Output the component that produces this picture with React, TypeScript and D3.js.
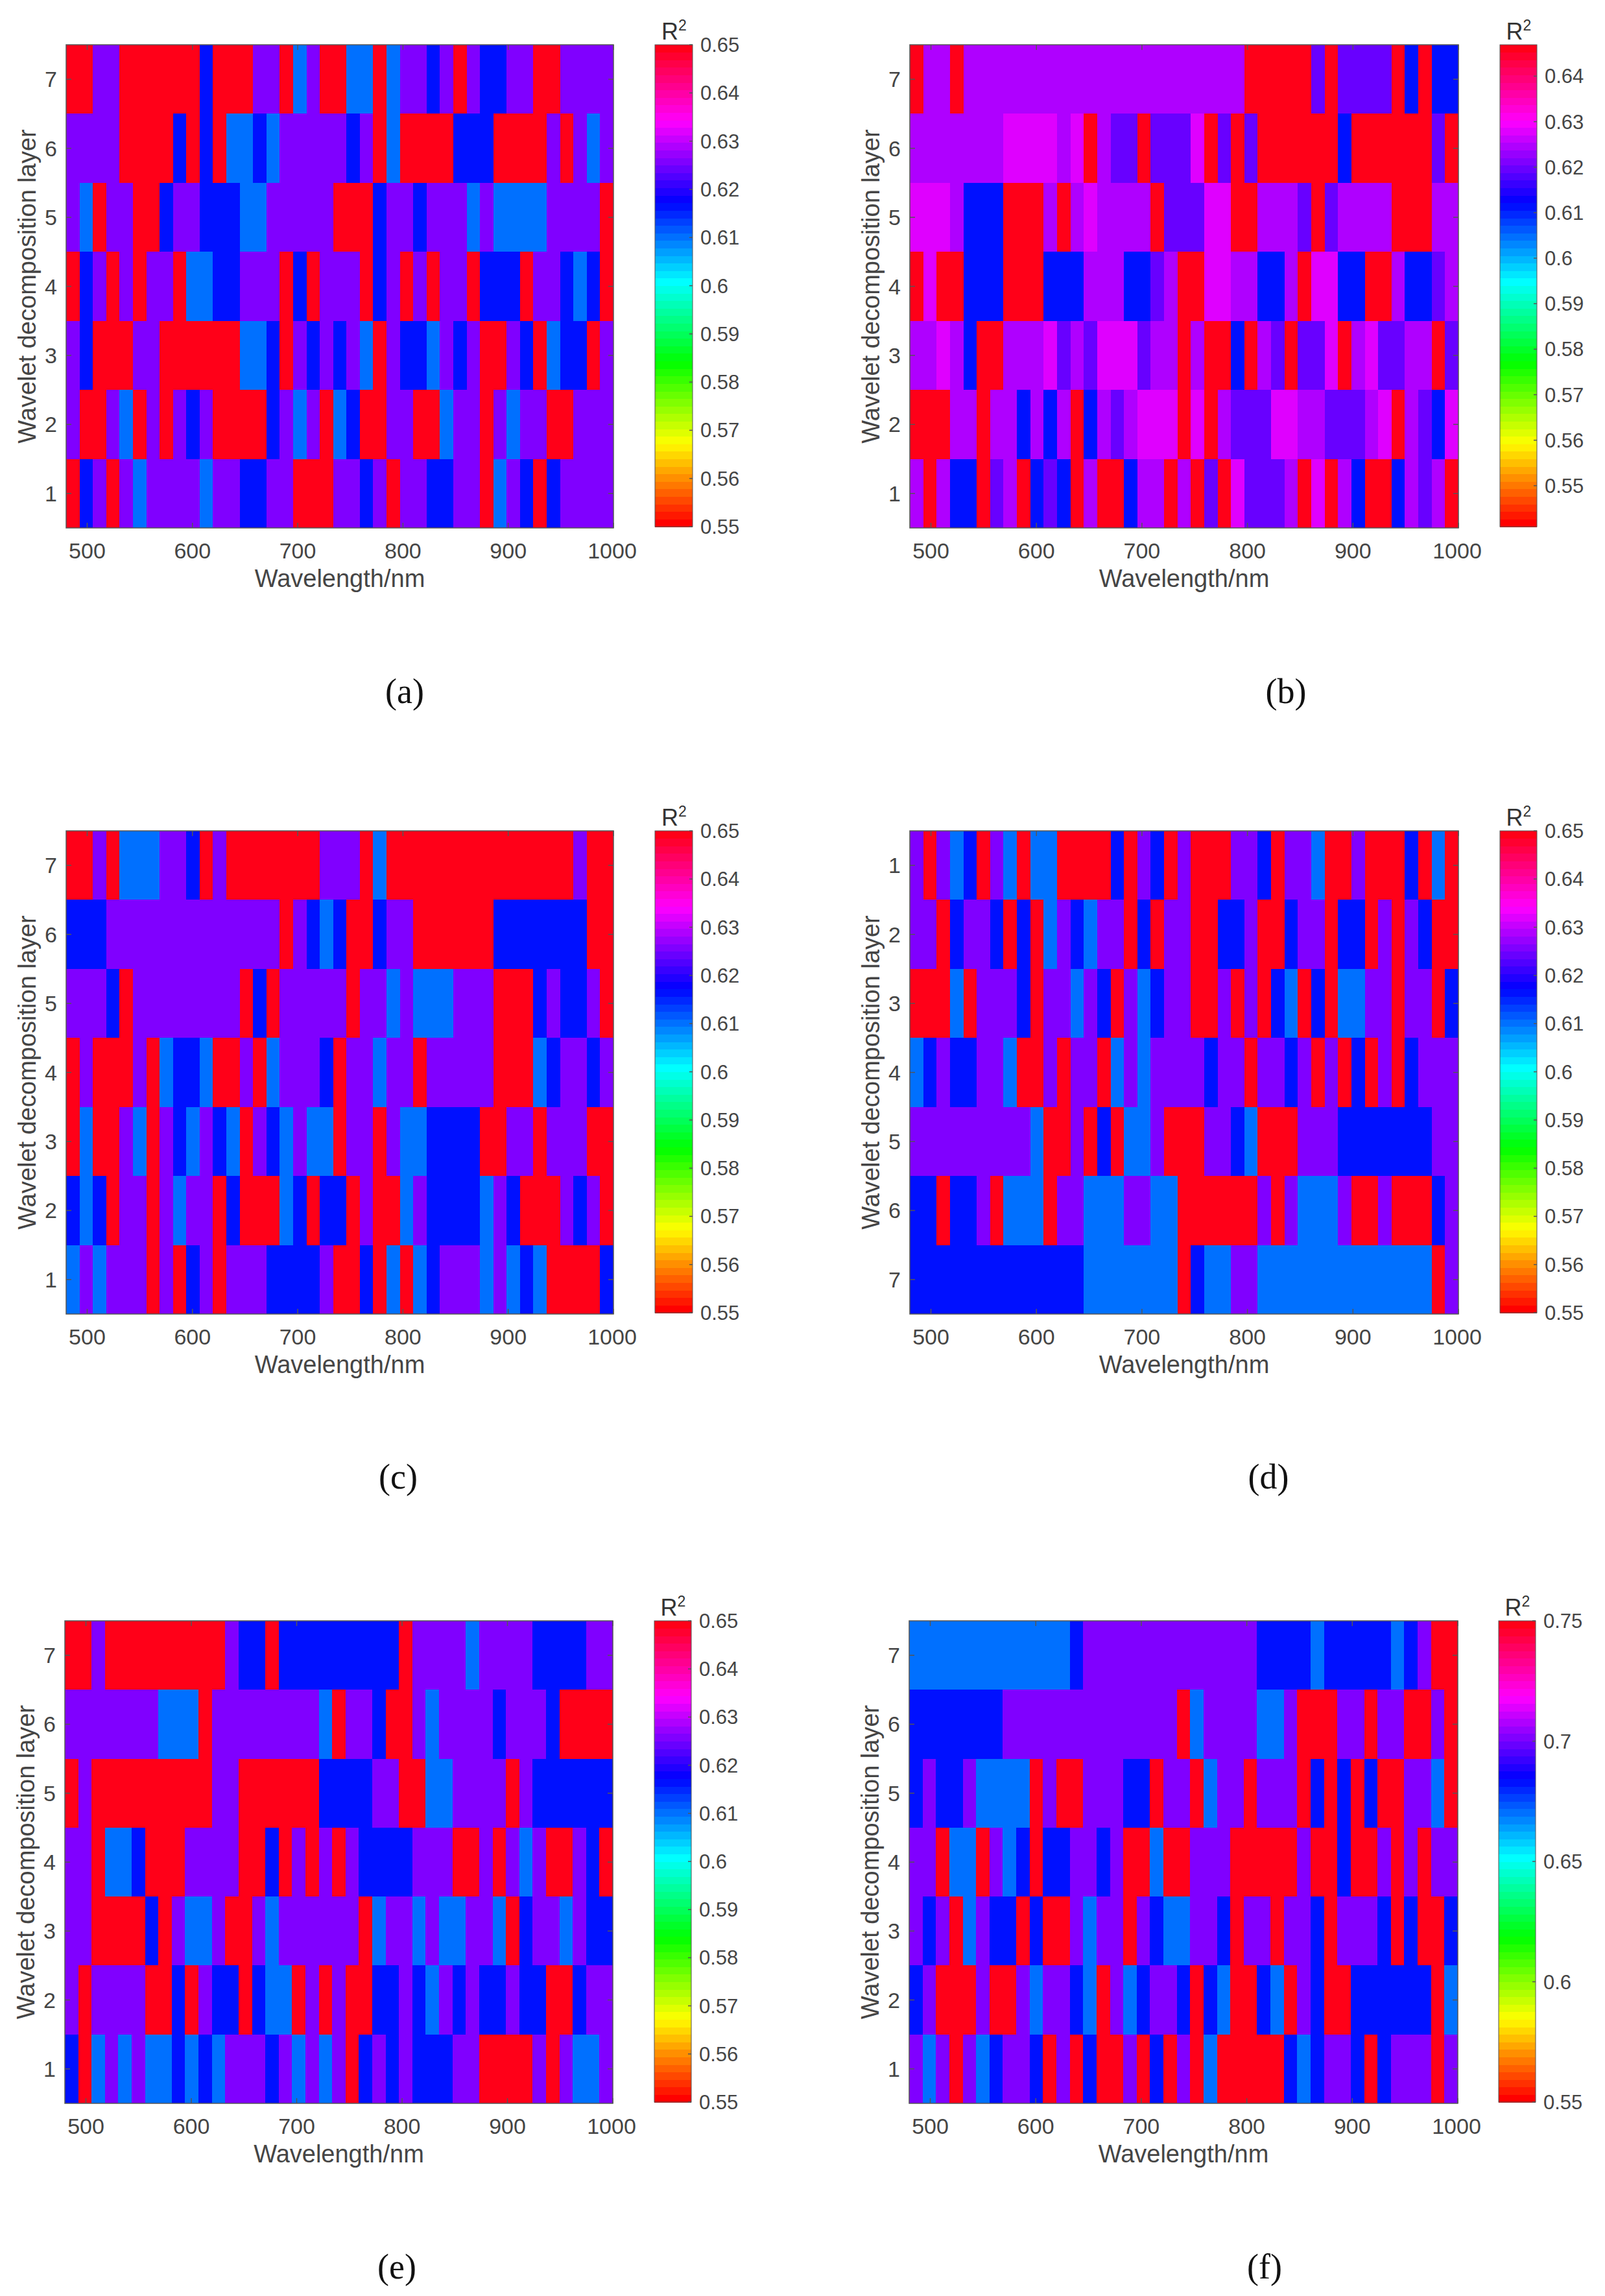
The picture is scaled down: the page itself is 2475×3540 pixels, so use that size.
import React from 'react'
import * as d3 from 'd3'

// R2 of every wavelength band (41 bands, one letter each, grouped by ten) per decomposition layer, layer 1 first
const panelA = [
  'RBVRVLVVVV LVVBBVVRRR VVBVRVVBBV VRLVBRBVVV V',
  'VRRVLRVRVB VRRRRBVLVR LBRRVVRRLV VRVLVVRRVV V',
  'VBRRRVVRRR RRRLLBRVBV BVLRVBBLVB VRRVBRLBBR V',
  'RBVRVRVVRL LBBVVVRBRV VVRBVRVRVV RBBBRVVBLB R',
  'VLRVVRRBVV BBBLLVVVVV RRRBVVBVVV LVLLLLVVVV R',
  'VVVVRRRRBR BRLLBLVVVV VBVRLRRRRB BBRRRRVRVL V',
  'RRVVRRRRRR BRRRVVRLVR RLLRLVVBVR VBBVVRRVVV V',
]
const panelB = [
  'MRMBBRUMRB UBRMRRBMMR MRURPUUUMR PRMBRRBMUM R',
  'RRRMMRMMBM BMRBMUMPPP RPRMUUUPPM MUUUMPRMUB P',
  'MMPMBRRMMM PUMUPPPUMM RMRRBRMURU UPRMPUUMMR U',
  'RPRRBBBRRR BBBMMMBBUM RRPPMMBBMR PPBBRRMBBU M',
  'PPPMBBBRRR MRMPMMMMRU UUPPRRMMMU RUMMMMRRRM M',
  'MMMMMMMPPP PMPRMUURUU UPRURURRRR RRBRRRRRRU R',
  'RMMRMMMMMM MMMMMMMMMM MMMMMRRRRR URUUUURBRB B',
]
const panelC = [
  'LVLVVVRVRB VRVVVBBBBV RRBRLRLBVV VLVLBLRRRR B',
  'BLBRVVRVLV VRBRRRLBRB BRVRRLVBBB BLVBRRRVBV R',
  'RLRRVLRVBL VBLRVBLVLL RVVRVLLBBB BRRVVRVVVR R',
  'RVRRRVRLBB LRRVRLVVVB RVVLVVRVVV VVRRRLBVVB V',
  'VVVBRVVVVV VVVRBRVVVV VRVVLVLLLV VVRRRBVBBV R',
  'BBBVVVVVVV VVVVVVRVBL BRRBVVRRRR RRBBBBBBBR R',
  'RRVRLLLVVB RVRRRRRRRV VVRLRRRRRR RRRRRRRRVR R',
]
const panelD = [
  'VRVLBRVLRL LRRRRBRVBR VRRRVVBRVV LRRVRRRBRL R',
  'VVRBVVBRBR LVBLVVRBRV VRRBBVRRBV VRBBRVRVBR R',
  'RRRLRVVVBR VVLVBRVLBV VRRVRVRBLR BRLLVVRVVR B',
  'LBVBBVVLRR VRVVRLVLVV VVBVVRVVBV RVRBRVRBVV V',
  'VVVVVVVVVL RRVRBRLLVR RRVVBLRRRV VVBBBBBBBV V',
  'BBRBBVRLLL RVVLLLVVLL RRRRRRVRVL LLVRRVRRRB V',
  'BBBBBBBBBB BBBLLLLLLL RBLLVVLLLL LLLLLLLLLR V',
]
const panelE = [
  'BRLVLVLLBL BLVVVBVLVL VRBVBVBBBV VRRRRVRVLL V',
  'VRVVVVRRBR VBBRBLLRVR VRRBBVBLVB VBBVBBRRBV V',
  'VVRRRRBRVL LVRRVLVVVV VVRLVVLVLL VVLRBVVLVB B',
  'VVRLLBRRRV VVVRRBRVRV RVBBBBVVVR RVRVLVRRVB R',
  'RVRRRRRRRR RVVRRRRRRB BBBVVRRLLV VVVRVBBBBB B',
  'VVVVVVVLLL RVVVVVVVVL RVVBRRVLVV VVBVVVBRRR R',
  'RRVRRRRRRR RRVBBRBBBB BBBBBRVVVV LVVVVBBBBV V',
]
const panelF = [
  'VLVRVLBVVB RVRBRRVRBR VRLRRRRRBL BVVBRBVVVR V',
  'BVRRRVRRVL VVBLRVLBVV BRBLRRBLRV BRRBBBBBBR L',
  'VBVRLVBBRB RRVLVVRVBL LVVBRVVRVV BRVVVBRBRR B',
  'VVRLLRVLBR BBVVBVRRLR RVVVRRRRRV RRBRRVRVRV V',
  'BVBBVLLLLR VRRVVVBBRV VRLVVRVVVR BRBRBRRVVL R',
  'BBBBBBBVVV VVVVVVVVVV RLVVVVLLVR RRVVRVVRRV R',
  'LLLLLLLLLL LLBVVVVVVV VVVVVVBBBB LBBBBBLBVR R',
]

// R2 each letter stands for
const levels65 = { R: 0.6495, V: 0.625, B: 0.617, L: 0.61 }
const levelsB = { R: 0.6465, P: 0.628, M: 0.625, U: 0.619, B: 0.6117 }
const levelsF = { R: 0.749, V: 0.7, B: 0.684, L: 0.67 }

const xTicks = [500, 600, 700, 800, 900, 1000]
const layerTicks = [1, 2, 3, 4, 5, 6, 7]
const barTicks65 = [0.55, 0.56, 0.57, 0.58, 0.59, 0.6, 0.61, 0.62, 0.63, 0.64, 0.65]
const barTicksB = [0.55, 0.56, 0.57, 0.58, 0.59, 0.6, 0.61, 0.62, 0.63, 0.64]
const barTicksF = [0.55, 0.6, 0.65, 0.7, 0.75]

const bandCount = 41
const xDomain = [480, 1000]

// matlab hsv colormap
const hsvColors = d3.range(64).map((i) => d3.hsl((i / 64) * 360, 1, 0.5).formatHex())

const panels = [
  { name: '(a)', rows: panelA, levels: levels65, clim: [0.55, 0.65], barTicks: barTicks65, left: 102, right: 946, top: 69, bottom: 814, barLeft: 1010, barRight: 1068, labelX: 624, labelY: 1084, reversed: false },
  { name: '(b)', rows: panelB, levels: levelsB, clim: [0.541, 0.6469], barTicks: barTicksB, left: 1403, right: 2249, top: 69, bottom: 814, barLeft: 2313, barRight: 2370, labelX: 1983, labelY: 1084, reversed: false },
  { name: '(c)', rows: panelC, levels: levels65, clim: [0.55, 0.65], barTicks: barTicks65, left: 102, right: 946, top: 1281, bottom: 2026, barLeft: 1010, barRight: 1068, labelX: 614, labelY: 2295, reversed: false },
  { name: '(d)', rows: panelD, levels: levels65, clim: [0.55, 0.65], barTicks: barTicks65, left: 1403, right: 2249, top: 1281, bottom: 2026, barLeft: 2313, barRight: 2370, labelX: 1956, labelY: 2295, reversed: true },
  { name: '(e)', rows: panelE, levels: levels65, clim: [0.55, 0.65], barTicks: barTicks65, left: 100, right: 945, top: 2499, bottom: 3243, barLeft: 1009, barRight: 1066, labelX: 612, labelY: 3513, reversed: false },
  { name: '(f)', rows: panelF, levels: levelsF, clim: [0.55, 0.75], barTicks: barTicksF, left: 1402, right: 2248, top: 2499, bottom: 3243, barLeft: 2311, barRight: 2368, labelX: 1950, labelY: 3513, reversed: false },
]

const sans = '"Liberation Sans", Arial, sans-serif'
const textColor = '#454545'
const boxColor = '#555555'

function Panel({ p }: { p: any }) {
  const x = d3.scaleLinear().domain(xDomain).range([p.left, p.right])
  const y = d3.scaleLinear().domain(p.reversed ? [0.5, 7.5] : [7.5, 0.5]).range([p.top, p.bottom])
  const bandWidth = (xDomain[1] - xDomain[0]) / bandCount
  const color = d3.scaleQuantize<string>().domain(p.clim).range(hsvColors)
  const barY = d3.scaleLinear().domain(p.clim).range([p.bottom - 2, p.top])
  const barLevels = d3.range(64).map((i) => p.clim[0] + (i / 64) * (p.clim[1] - p.clim[0]))
  const barStep = (p.clim[1] - p.clim[0]) / 64

  return (
    <g>
      {p.rows.map((row: string, r: number) =>
        row.replace(/ /g, '').split('').map((code, i) => {
          const wl = xDomain[0] + i * bandWidth
          return (
            <rect
              key={r + '-' + i}
              x={x(wl)}
              width={x(wl + bandWidth) - x(wl)}
              y={Math.min(y(r + 0.5), y(r + 1.5))}
              height={Math.abs(y(r + 1.5) - y(r + 0.5))}
              fill={color(p.levels[code])}
              shapeRendering="crispEdges"
            />
          )
        })
      )}
      <rect x={p.left} y={p.top} width={p.right - p.left} height={p.bottom - p.top} fill="none" stroke={boxColor} strokeWidth={1.5} />

      {xTicks.map((t) => (
        <g key={t}>
          <line x1={x(t)} x2={x(t)} y1={p.bottom} y2={p.bottom - 8} stroke={boxColor} strokeWidth={1.5} />
          <line x1={x(t)} x2={x(t)} y1={p.top} y2={p.top + 8} stroke={boxColor} strokeWidth={1.5} />
          <text x={t === 1000 ? x(t) - 2 : x(t)} y={p.bottom + 47} textAnchor="middle" fontFamily={sans} fontSize={34} fill={textColor}>{t}</text>
        </g>
      ))}
      {layerTicks.map((t) => (
        <g key={t}>
          <line x1={p.left} x2={p.left + 8} y1={y(t)} y2={y(t)} stroke={boxColor} strokeWidth={1.5} />
          <line x1={p.right} x2={p.right - 8} y1={y(t)} y2={y(t)} stroke={boxColor} strokeWidth={1.5} />
          <text x={p.left - 14} y={y(t) + 12} textAnchor="end" fontFamily={sans} fontSize={34} fill={textColor}>{t}</text>
        </g>
      ))}
      <text x={(p.left + p.right) / 2} y={p.bottom + 91} textAnchor="middle" fontFamily={sans} fontSize={38} fill={textColor}>Wavelength/nm</text>
      <text transform={`translate(${p.left - 47}, ${(p.top + p.bottom) / 2}) rotate(-90)`} textAnchor="middle" fontFamily={sans} fontSize={38} fill={textColor}>Wavelet decomposition layer</text>

      {barLevels.map((v, i) => (
        <rect key={i} x={p.barLeft} width={p.barRight - p.barLeft} y={barY(v + barStep)} height={barY(v) - barY(v + barStep) + 0.5} fill={hsvColors[i]} shapeRendering="crispEdges" />
      ))}
      <rect x={p.barLeft} y={p.top} width={p.barRight - p.barLeft} height={p.bottom - 2 - p.top} fill="none" stroke={boxColor} strokeWidth={1} />
      {p.barTicks.map((t: number) => (
        <g key={t}>
          <line x1={p.barRight} x2={p.barRight - 5} y1={barY(t)} y2={barY(t)} stroke={boxColor} strokeWidth={1.5} />
          <text x={p.barRight + 12} y={barY(t) + 11} fontFamily={sans} fontSize={31} fill={textColor}>{t}</text>
        </g>
      ))}
      <text x={(p.barLeft + p.barRight) / 2 - 19} y={p.top - 8} fontFamily={sans} fontSize={36} fill="#333333">
        R<tspan fontSize={23} dy={-14}>2</tspan>
      </text>

      <text x={p.labelX} y={p.labelY} textAnchor="middle" fontFamily='"Liberation Serif", "Times New Roman", serif' fontSize={54} fill="#111111">{p.name}</text>
    </g>
  )
}

export default function App() {
  return (
    <svg width={2475} height={3540} style={{ position: 'absolute', left: 0, top: 0, background: '#ffffff' }}>
      {panels.map((p) => <Panel key={p.name} p={p} />)}
    </svg>
  )
}
